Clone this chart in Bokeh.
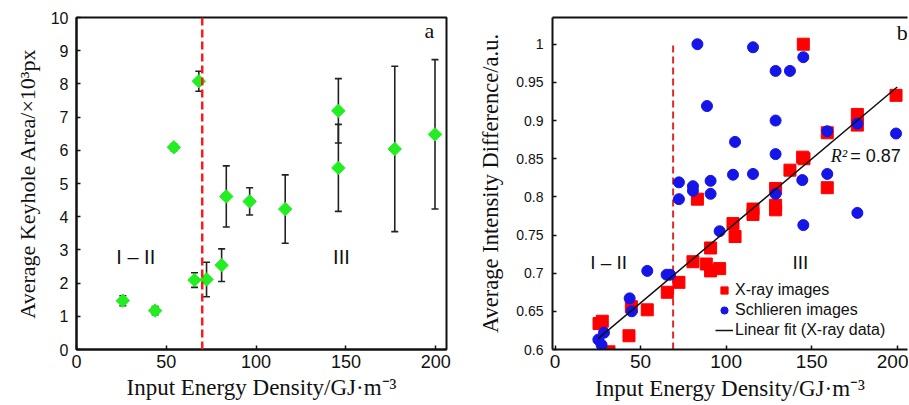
from bokeh.plotting import figure
from bokeh.models import (ColumnDataSource, Whisker, TeeHead, Span, Label, Legend, LegendItem,
                          FixedTicker, LinearAxis, Range1d)
from bokeh.layouts import row
from bokeh.embed import file_html
from bokeh.resources import INLINE

# ---------------- Panel a data ----------------
energy_a = [25.8, 43.8, 54.2, 65.7, 68.1, 72.4, 80.8, 83.4, 96.4, 116.2, 145.8, 145.8, 177.2, 199.6]
area_a = [1.47, 1.17, 6.09, 2.09, 8.08, 2.11, 2.54, 4.61, 4.46, 4.23, 7.19, 5.47, 6.04, 6.48]
area_err = [0.15, 0.12, 0.10, 0.22, 0.30, 0.52, 0.49, 0.92, 0.41, 1.03, 0.97, 1.31, 2.49, 2.25]
threshold_a = 70.0

# ---------------- Panel b data ----------------
xray_energy = [25.7, 27.6, 31.5, 43.2, 44.6, 53.9, 65.6, 72.4, 80.6, 83.2, 88.4, 90.9, 90.9, 96.2,
               104.0, 105.2, 115.7, 115.7, 128.9, 128.9, 128.9, 137.3, 144.7, 145.5, 145.1,
               159.1, 159.1, 176.7, 176.7, 199.3]
xray_diff = [0.634, 0.637, 0.597, 0.618, 0.656, 0.652, 0.675, 0.688, 0.715, 0.797, 0.712, 0.733, 0.703, 0.706,
             0.765, 0.748, 0.784, 0.777, 0.811, 0.789, 0.783, 0.835, 0.852, 0.850, 1.000,
             0.884, 0.812, 0.908, 0.894, 0.933]
schl_energy = [25.3, 27.2, 28.6, 43.6, 44.8, 53.9, 65.2, 67.2, 72.4, 72.4, 80.6, 80.6, 83.2, 88.8,
               90.9, 90.9, 96.2, 104.0, 105.2, 115.7, 115.7, 128.9, 128.9, 128.9, 128.9, 137.3,
               144.5, 145.1, 145.1, 159.1, 159.1, 176.7, 176.7, 199.3]
schl_diff = [0.613, 0.606, 0.622, 0.667, 0.650, 0.703, 0.698, 0.698, 0.819, 0.797, 0.814, 0.808, 1.000, 0.919,
             0.821, 0.804, 0.755, 0.829, 0.872, 0.996, 0.830, 0.965, 0.900, 0.856, 0.804, 0.965,
             0.822, 0.983, 0.763, 0.886, 0.830, 0.896, 0.779, 0.883]
fit_energy = [25.0, 200.0]
fit_diff = [0.614, 0.944]
threshold_b = [69.0]
threshold_b_low = [0.6]
threshold_b_high = [1.0]
r2_value = 0.87

# ---------------- ticks ----------------
xticks = [0, 50, 100, 150, 200]
xtick_labels = ["0", "50", "100", "150", "200"]
yticks_a = [0, 1, 2, 3, 4, 5, 6, 7, 8, 9, 10]
ytick_labels_a = ["0", "1", "2", "3", "4", "5", "6", "7", "8", "9", "10"]
yticks_b = [0.6, 0.65, 0.7, 0.75, 0.8, 0.85, 0.9, 0.95, 1.0]
ytick_labels_b = ["0.6", "0.65", "0.7", "0.75", "0.8", "0.85", "0.9", "0.95", "1"]

INK = "#111111"


def style_axis(ax, tick_size, label_standoff, axis_standoff, label_size="23px"):
    ax.major_tick_in = 4
    ax.major_tick_out = 0
    ax.major_tick_line_width = 1.5
    ax.major_tick_line_color = INK
    ax.minor_tick_line_color = None
    ax.axis_line_width = 2
    ax.axis_line_color = INK
    ax.major_label_text_font = "Liberation Sans"
    ax.major_label_text_font_size = tick_size
    ax.major_label_text_color = INK
    ax.major_label_standoff = label_standoff
    ax.axis_label_text_font = "Liberation Serif"
    ax.axis_label_text_font_style = "normal"
    ax.axis_label_text_font_size = label_size
    ax.axis_label_text_color = INK
    ax.axis_label_standoff = axis_standoff


# ================= Panel a =================
p1 = figure(width=460, height=403, x_range=Range1d(0, 206), y_range=Range1d(0, 10),
            output_backend="svg", toolbar_location=None,
            min_border_left=76, min_border_right=14, min_border_top=15, min_border_bottom=53)
p1.grid.visible = False
p1.outline_line_color = INK
p1.outline_line_width = 2

p1.xaxis.ticker = FixedTicker(ticks=xticks)
p1.xaxis.major_label_overrides = dict(zip(xticks, xtick_labels))
p1.yaxis.ticker = FixedTicker(ticks=yticks_a)
p1.yaxis.major_label_overrides = dict(zip(yticks_a, ytick_labels_a))
p1.xaxis.axis_label = "Input Energy Density/GJ·m⁻³"
p1.yaxis.axis_label = "Average Keyhole Area/×10³px"
style_axis(p1.xaxis[0], "18px", 5, 4)
style_axis(p1.yaxis[0], "16px", 8, 8, "22px")

src_a = ColumnDataSource(dict(x=energy_a, y=area_a,
                              upper=[v + e for v, e in zip(area_a, area_err)],
                              lower=[v - e for v, e in zip(area_a, area_err)]))
wh = Whisker(source=src_a, base="x", upper="upper", lower="lower", dimension="height",
             line_color="#222222", line_width=1.6,
             upper_head=TeeHead(size=7, line_width=1.6, line_color="#222222"),
             lower_head=TeeHead(size=7, line_width=1.6, line_color="#222222"),
             level="underlay")
p1.add_layout(wh)
p1.scatter("x", "y", source=src_a, marker="square", angle=0.785398, size=9.5,
           fill_color="#22EE22", line_color="#22EE22")

p1.add_layout(Span(location=threshold_a, dimension="height", line_color="#FF1A1A",
                   line_dash="8 4", line_width=2.5))

for txt, xx, yy in [("I – II", 33, 2.8), ("III", 147.5, 2.8)]:
    p1.add_layout(Label(x=xx, y=yy, text=txt, text_align="center", text_baseline="middle",
                        text_font="Liberation Sans", text_font_size="20px", text_color=INK))
p1.add_layout(Label(x=196.5, y=9.6, text="a", text_align="center", text_baseline="middle",
                    text_font="Liberation Serif", text_font_size="22px", text_color=INK))

# ================= Panel b =================
p2 = figure(width=448, height=403, x_range=Range1d(-1.5, 206), y_range=Range1d(0.6, 1.035),
            output_backend="svg", toolbar_location=None,
            min_border_left=92, min_border_right=1, min_border_top=17, min_border_bottom=47)
p2.grid.visible = False
p2.outline_line_color = None

p2.xaxis.ticker = FixedTicker(ticks=xticks)
p2.xaxis.major_label_overrides = dict(zip(xticks, xtick_labels))
p2.yaxis.ticker = FixedTicker(ticks=yticks_b)
p2.yaxis.major_label_overrides = dict(zip(yticks_b, ytick_labels_b))
p2.xaxis.axis_label = "Input Energy Density/GJ·m⁻³"
p2.yaxis.axis_label = "Average Intensity Difference/a.u."
style_axis(p2.xaxis[0], "19px", 5, 5)
style_axis(p2.yaxis[0], "14px", 9, 10, "22.5px")

top_axis = LinearAxis(ticker=FixedTicker(ticks=[]), axis_line_width=2, axis_line_color=INK,
                      major_tick_line_color=None, minor_tick_line_color=None,
                      major_label_text_font_size="0px", major_label_standoff=0,
                      major_tick_in=0, major_tick_out=0)
p2.add_layout(top_axis, "above")

p2.segment(x0=threshold_b, y0=threshold_b_low, x1=threshold_b, y1=threshold_b_high,
           line_color="#E02828", line_dash="7 4", line_width=2)

r_red = p2.scatter(xray_energy, xray_diff, marker="square", size=12,
                   fill_color="#FF0000", line_color="#FF0000")
r_blue = p2.scatter(schl_energy, schl_diff, marker="circle", size=11,
                    fill_color="#1515E8", line_color="#1515E8")
r_fit = p2.line(fit_energy, fit_diff, line_color=INK, line_width=1.5)

p2.add_layout(Label(x=161.1, y=0.853, text="R²", text_align="left", text_baseline="middle",
                    text_font="Liberation Serif", text_font_style="italic",
                    text_font_size="18px", text_color=INK))
p2.add_layout(Label(x=172.5, y=0.853, text=f"= {r2_value:.2f}", text_align="left",
                    text_baseline="middle", text_font="Liberation Sans",
                    text_font_size="18px", text_color=INK))
for txt, xx, yy in [("I – II", 31.3, 0.714), ("III", 143.4, 0.714)]:
    p2.add_layout(Label(x=xx, y=yy, text=txt, text_align="center", text_baseline="middle",
                        text_font="Liberation Sans", text_font_size="19px", text_color=INK))
p2.add_layout(Label(x=203, y=1.015, text="b", text_align="center", text_baseline="middle",
                    text_font="Liberation Serif", text_font_size="22px", text_color=INK))

legend = Legend(items=[LegendItem(label="X-ray images", renderers=[r_red]),
                       LegendItem(label="Schlieren images", renderers=[r_blue]),
                       LegendItem(label="Linear fit (X-ray data)", renderers=[r_fit])],
                location=(163, 9), padding=0, margin=0, spacing=0,
                glyph_width=18, glyph_height=20, label_height=20, label_standoff=2,
                label_text_font="Liberation Sans", label_text_font_size="16px",
                label_text_color=INK, border_line_color=None, background_fill_alpha=0)
p2.add_layout(legend)

layout = row(p1, p2)
open("out.html", "w").write(file_html(layout, INLINE))
